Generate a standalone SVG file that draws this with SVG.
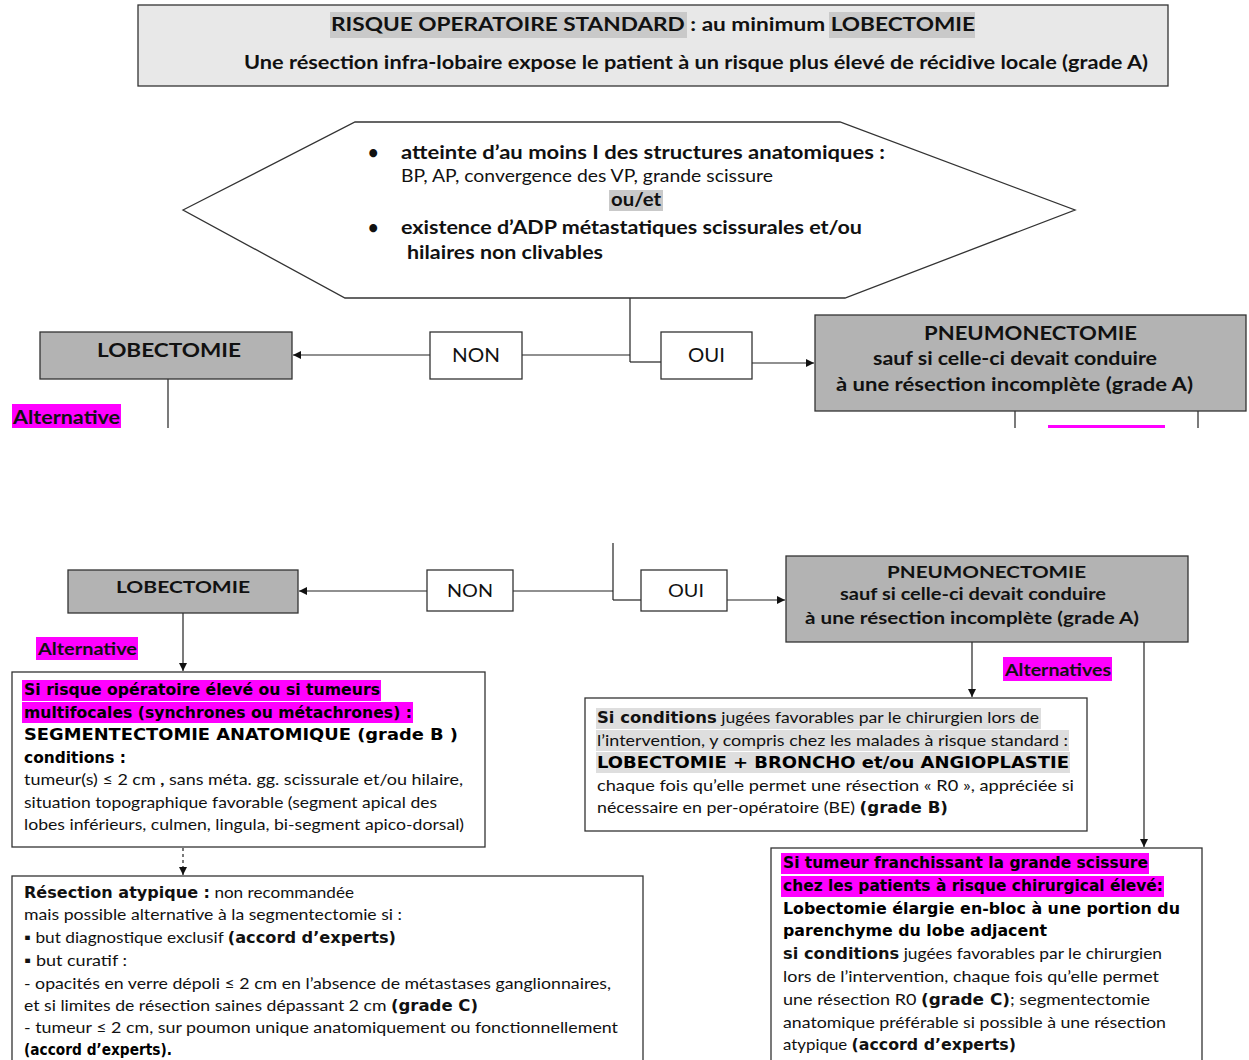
<svg xmlns="http://www.w3.org/2000/svg" width="1249" height="1060" viewBox="0 0 1249 1060">
<defs>
<style>
.g{font-family:"Lato","Open Sans","Liberation Sans",sans-serif;fill:#111}
.gb{font-family:"Lato","Open Sans","Liberation Sans",sans-serif;font-weight:bold;fill:#111}
.v{font-family:"DejaVu Sans","Liberation Sans",sans-serif;font-weight:bold}
.b{font-weight:bold}
.box{fill:#fff;stroke:#333;stroke-width:1.3}
.dark{fill:#b3b3b3;stroke:#333;stroke-width:1.3}
.light{fill:#e8e8e8;stroke:#333;stroke-width:1.3}
.mag{fill:#ff00ff}
.hl{fill:#c9c9c9}
.hl2{fill:#dedede}
.ln{fill:none;stroke:#222;stroke-width:1.2}
</style>
<marker id="ah" viewBox="0 0 10 10" refX="10" refY="5" markerWidth="8" markerHeight="8" markerUnits="userSpaceOnUse" orient="auto">
<path d="M0,0 L10,5 L0,10 z" fill="#111"/>
</marker>
</defs>
<rect width="1249" height="1060" fill="#fff"/>

<g id="connectors">
<line class="ln" x1="630" y1="298" x2="630" y2="362"/>
<line class="ln" x1="630" y1="355" x2="522" y2="355"/>
<line class="ln" x1="430" y1="355" x2="293" y2="355" marker-end="url(#ah)"/>
<line class="ln" x1="630" y1="362" x2="661" y2="362"/>
<line class="ln" x1="752" y1="363" x2="814" y2="363" marker-end="url(#ah)"/>
<line class="ln" x1="168" y1="379" x2="168" y2="428"/>
<line class="ln" x1="1015" y1="411" x2="1015" y2="428"/>
<line class="ln" x1="1198" y1="411" x2="1198" y2="428"/>
<line class="ln" x1="613" y1="543" x2="613" y2="600"/>
<line class="ln" x1="613" y1="591" x2="513" y2="591"/>
<line class="ln" x1="427" y1="591" x2="299" y2="591" marker-end="url(#ah)"/>
<line class="ln" x1="613" y1="600" x2="641" y2="600"/>
<line class="ln" x1="727" y1="600" x2="785" y2="600" marker-end="url(#ah)"/>
<line class="ln" x1="183" y1="613" x2="183" y2="671" marker-end="url(#ah)"/>
<line class="ln" x1="183" y1="848" x2="183" y2="875" stroke-dasharray="3,3" marker-end="url(#ah)"/>
<line class="ln" x1="972" y1="642" x2="972" y2="697" marker-end="url(#ah)"/>
<line class="ln" x1="1144" y1="642" x2="1144" y2="847" marker-end="url(#ah)"/>
</g>

<g id="top-box">
<rect class="light" x="138" y="5" width="1030" height="81"/>
<rect class="hl" x="330" y="12" width="357" height="26"/>
<rect class="hl" x="829" y="12" width="146" height="26"/>
<text class="gb" x="331" y="31" font-size="19" textLength="644" lengthAdjust="spacingAndGlyphs">RISQUE OPERATOIRE STANDARD : au minimum LOBECTOMIE</text>
<text class="gb" x="244" y="69" font-size="19" textLength="904" lengthAdjust="spacingAndGlyphs">Une résection infra-lobaire expose le patient à un risque plus élevé de récidive locale (grade A)</text>
</g>

<g id="decision">
<polygon class="box" points="183,210 355,122 840,122 1075,210 845,298 345,298"/>
<rect class="hl" x="609" y="190" width="54" height="21"/>
<text class="gb" x="368" y="159" font-size="18">•</text>
<text class="gb" x="401" y="159" font-size="18" textLength="484" lengthAdjust="spacingAndGlyphs">atteinte d’au moins I des structures anatomiques :</text>
<text class="g" x="401" y="182" font-size="17" textLength="372" lengthAdjust="spacingAndGlyphs">BP, AP, convergence des VP, grande scissure</text>
<text class="gb" x="611" y="206" font-size="18" textLength="50" lengthAdjust="spacingAndGlyphs">ou/et</text>
<text class="gb" x="368" y="234" font-size="18">•</text>
<text class="gb" x="401" y="234" font-size="18" textLength="461" lengthAdjust="spacingAndGlyphs">existence d’ADP métastatiques scissurales et/ou</text>
<text class="gb" x="407" y="259" font-size="18" textLength="196" lengthAdjust="spacingAndGlyphs">hilaires non clivables</text>
</g>

<g id="lobectomie-1">
<rect class="dark" x="40" y="332" width="252" height="47"/>
<text class="gb" x="97" y="357" font-size="18" textLength="144" lengthAdjust="spacingAndGlyphs">LOBECTOMIE</text>
</g>
<g id="non-1">
<rect class="box" x="430" y="332" width="92" height="47"/>
<text class="g" x="452" y="362" font-size="19" textLength="48" lengthAdjust="spacingAndGlyphs">NON</text>
</g>
<g id="oui-1">
<rect class="box" x="661" y="332" width="91" height="47"/>
<text class="g" x="688" y="362" font-size="19" textLength="37" lengthAdjust="spacingAndGlyphs">OUI</text>
</g>
<g id="pneumonectomie-1">
<rect class="dark" x="815" y="315" width="431" height="96"/>
<text class="gb" x="924" y="340" font-size="19" textLength="213" lengthAdjust="spacingAndGlyphs">PNEUMONECTOMIE</text>
<text class="gb" x="873" y="365" font-size="19" textLength="284" lengthAdjust="spacingAndGlyphs">sauf si celle-ci devait conduire</text>
<text class="gb" x="836" y="391" font-size="19" textLength="357" lengthAdjust="spacingAndGlyphs">à une résection incomplète (grade A)</text>
</g>
<g id="alternative-1">
<rect class="mag" x="12" y="404" width="109" height="24"/>
<text class="gb" x="13" y="424" font-size="18" textLength="107" lengthAdjust="spacingAndGlyphs">Alternative</text>
</g>
<g id="alternatives-cut">
<rect class="mag" x="1048" y="425" width="117" height="3"/>
</g>

<g id="lobectomie-2">
<rect class="dark" x="68" y="570" width="230" height="43"/>
<text class="gb" x="116" y="593" font-size="17" textLength="134" lengthAdjust="spacingAndGlyphs">LOBECTOMIE</text>
</g>
<g id="non-2">
<rect class="box" x="427" y="570" width="86" height="41"/>
<text class="g" x="447" y="597" font-size="18" textLength="46" lengthAdjust="spacingAndGlyphs">NON</text>
</g>
<g id="oui-2">
<rect class="box" x="641" y="570" width="86" height="41"/>
<text class="g" x="668" y="597" font-size="18" textLength="36" lengthAdjust="spacingAndGlyphs">OUI</text>
</g>
<g id="pneumonectomie-2">
<rect class="dark" x="786" y="556" width="402" height="86"/>
<text class="gb" x="887" y="578" font-size="17" textLength="199" lengthAdjust="spacingAndGlyphs">PNEUMONECTOMIE</text>
<text class="gb" x="840" y="600" font-size="17" textLength="266" lengthAdjust="spacingAndGlyphs">sauf si celle-ci devait conduire</text>
<text class="gb" x="805" y="624" font-size="17" textLength="334" lengthAdjust="spacingAndGlyphs">à une résection incomplète (grade A)</text>
</g>
<g id="alternative-2">
<rect class="mag" x="36" y="637" width="102" height="23"/>
<text class="gb" x="38" y="655" font-size="17" textLength="99" lengthAdjust="spacingAndGlyphs">Alternative</text>
</g>
<g id="alternatives-2">
<rect class="mag" x="1003" y="657" width="109" height="24"/>
<text class="gb" x="1005" y="676" font-size="17" textLength="106" lengthAdjust="spacingAndGlyphs">Alternatives</text>
</g>

<g id="segmentectomie">
<rect class="box" x="12" y="672" width="473" height="175"/>
<rect class="mag" x="22" y="680" width="359" height="21"/>
<rect class="mag" x="22" y="702" width="391" height="21"/>
<text class="v" x="24" y="695" font-size="15" textLength="356" lengthAdjust="spacingAndGlyphs">Si risque opératoire élevé ou si tumeurs</text>
<text class="v" x="24" y="718" font-size="15" textLength="388" lengthAdjust="spacingAndGlyphs">multifocales (synchrones ou métachrones) :</text>
<text class="v" x="24" y="740" font-size="16" textLength="434" lengthAdjust="spacingAndGlyphs">SEGMENTECTOMIE ANATOMIQUE (grade B )</text>
<text class="v" x="24" y="763" font-size="16" textLength="102" lengthAdjust="spacingAndGlyphs">conditions :</text>
<text class="g" x="24" y="785" font-size="16" textLength="439" lengthAdjust="spacingAndGlyphs">tumeur(s) ≤ 2 cm <tspan class="b">,</tspan> sans méta. gg. scissurale et/ou hilaire,</text>
<text class="g" x="24" y="808" font-size="16" textLength="413" lengthAdjust="spacingAndGlyphs">situation topographique favorable (segment apical des</text>
<text class="g" x="24" y="830" font-size="16" textLength="440" lengthAdjust="spacingAndGlyphs">lobes inférieurs, culmen, lingula, bi-segment apico-dorsal)</text>
</g>

<g id="resection-atypique">
<rect class="box" x="12" y="876" width="631" height="200"/>
<text class="g" x="24" y="898" font-size="16" textLength="330" lengthAdjust="spacingAndGlyphs"><tspan class="v" font-size="15">Résection atypique :</tspan> non recommandée</text>
<text class="g" x="24" y="920" font-size="16" textLength="378" lengthAdjust="spacingAndGlyphs">mais possible alternative à la segmentectomie si :</text>
<text class="g" x="24" y="943" font-size="16" textLength="372" lengthAdjust="spacingAndGlyphs">▪ but diagnostique exclusif <tspan class="v" font-size="15">(accord d’experts)</tspan></text>
<text class="g" x="24" y="966" font-size="16" textLength="103" lengthAdjust="spacingAndGlyphs">▪ but curatif :</text>
<text class="g" x="24" y="989" font-size="16" textLength="587" lengthAdjust="spacingAndGlyphs">- opacités en verre dépoli ≤ 2 cm en l’absence de métastases ganglionnaires,</text>
<text class="g" x="24" y="1011" font-size="16" textLength="454" lengthAdjust="spacingAndGlyphs">et si limites de résection saines dépassant 2 cm <tspan class="v" font-size="15">(grade C)</tspan></text>
<text class="g" x="24" y="1033" font-size="16" textLength="594" lengthAdjust="spacingAndGlyphs">- tumeur ≤ 2 cm, sur poumon unique anatomiquement ou fonctionnellement</text>
<text class="v" x="24" y="1055" font-size="15" textLength="148" lengthAdjust="spacingAndGlyphs">(accord d’experts).</text>
</g>

<g id="bronchoplastie">
<rect class="box" x="585" y="698" width="502" height="133"/>
<rect class="hl2" x="596" y="708" width="445" height="21"/>
<rect class="hl2" x="596" y="730" width="473" height="21"/>
<rect class="hl2" x="596" y="752" width="474" height="21"/>
<text class="g" x="597" y="723" font-size="16" textLength="442" lengthAdjust="spacingAndGlyphs"><tspan class="v" font-size="15">Si conditions</tspan> jugées favorables par le chirurgien lors de</text>
<text class="g" x="597" y="746" font-size="16" textLength="471" lengthAdjust="spacingAndGlyphs">l’intervention, y compris chez les malades à risque standard :</text>
<text class="v" x="597" y="768" font-size="16" textLength="472" lengthAdjust="spacingAndGlyphs">LOBECTOMIE + BRONCHO et/ou ANGIOPLASTIE</text>
<text class="g" x="597" y="791" font-size="16" textLength="477" lengthAdjust="spacingAndGlyphs">chaque fois qu’elle permet une résection « R0 »,  appréciée si</text>
<text class="g" x="597" y="813" font-size="16" textLength="351" lengthAdjust="spacingAndGlyphs">nécessaire en per-opératoire (BE) <tspan class="v" font-size="15">(grade B)</tspan></text>
</g>

<g id="lobectomie-elargie">
<rect class="box" x="771" y="848" width="431" height="230"/>
<rect class="mag" x="781" y="853" width="368" height="21"/>
<rect class="mag" x="781" y="876" width="383" height="21"/>
<text class="v" x="783" y="868" font-size="15" textLength="365" lengthAdjust="spacingAndGlyphs">Si tumeur franchissant la grande scissure</text>
<text class="v" x="783" y="891" font-size="15" textLength="380" lengthAdjust="spacingAndGlyphs">chez les patients à risque chirurgical élevé:</text>
<text class="v" x="783" y="914" font-size="15" textLength="397" lengthAdjust="spacingAndGlyphs">Lobectomie élargie en-bloc à une portion du</text>
<text class="v" x="783" y="936" font-size="15" textLength="264" lengthAdjust="spacingAndGlyphs">parenchyme du lobe adjacent</text>
<text class="g" x="783" y="959" font-size="16" textLength="379" lengthAdjust="spacingAndGlyphs"><tspan class="v" font-size="15">si conditions</tspan> jugées favorables par le chirurgien</text>
<text class="g" x="783" y="982" font-size="16" textLength="376" lengthAdjust="spacingAndGlyphs">lors de l’intervention, chaque fois qu’elle permet</text>
<text class="g" x="783" y="1005" font-size="16" textLength="367" lengthAdjust="spacingAndGlyphs">une résection R0  <tspan class="v" font-size="15">(grade C)</tspan>; segmentectomie</text>
<text class="g" x="783" y="1028" font-size="16" textLength="383" lengthAdjust="spacingAndGlyphs">anatomique préférable si possible à une résection</text>
<text class="g" x="783" y="1050" font-size="16" textLength="233" lengthAdjust="spacingAndGlyphs">atypique <tspan class="v" font-size="15">(accord d’experts)</tspan></text>
</g>
</svg>
